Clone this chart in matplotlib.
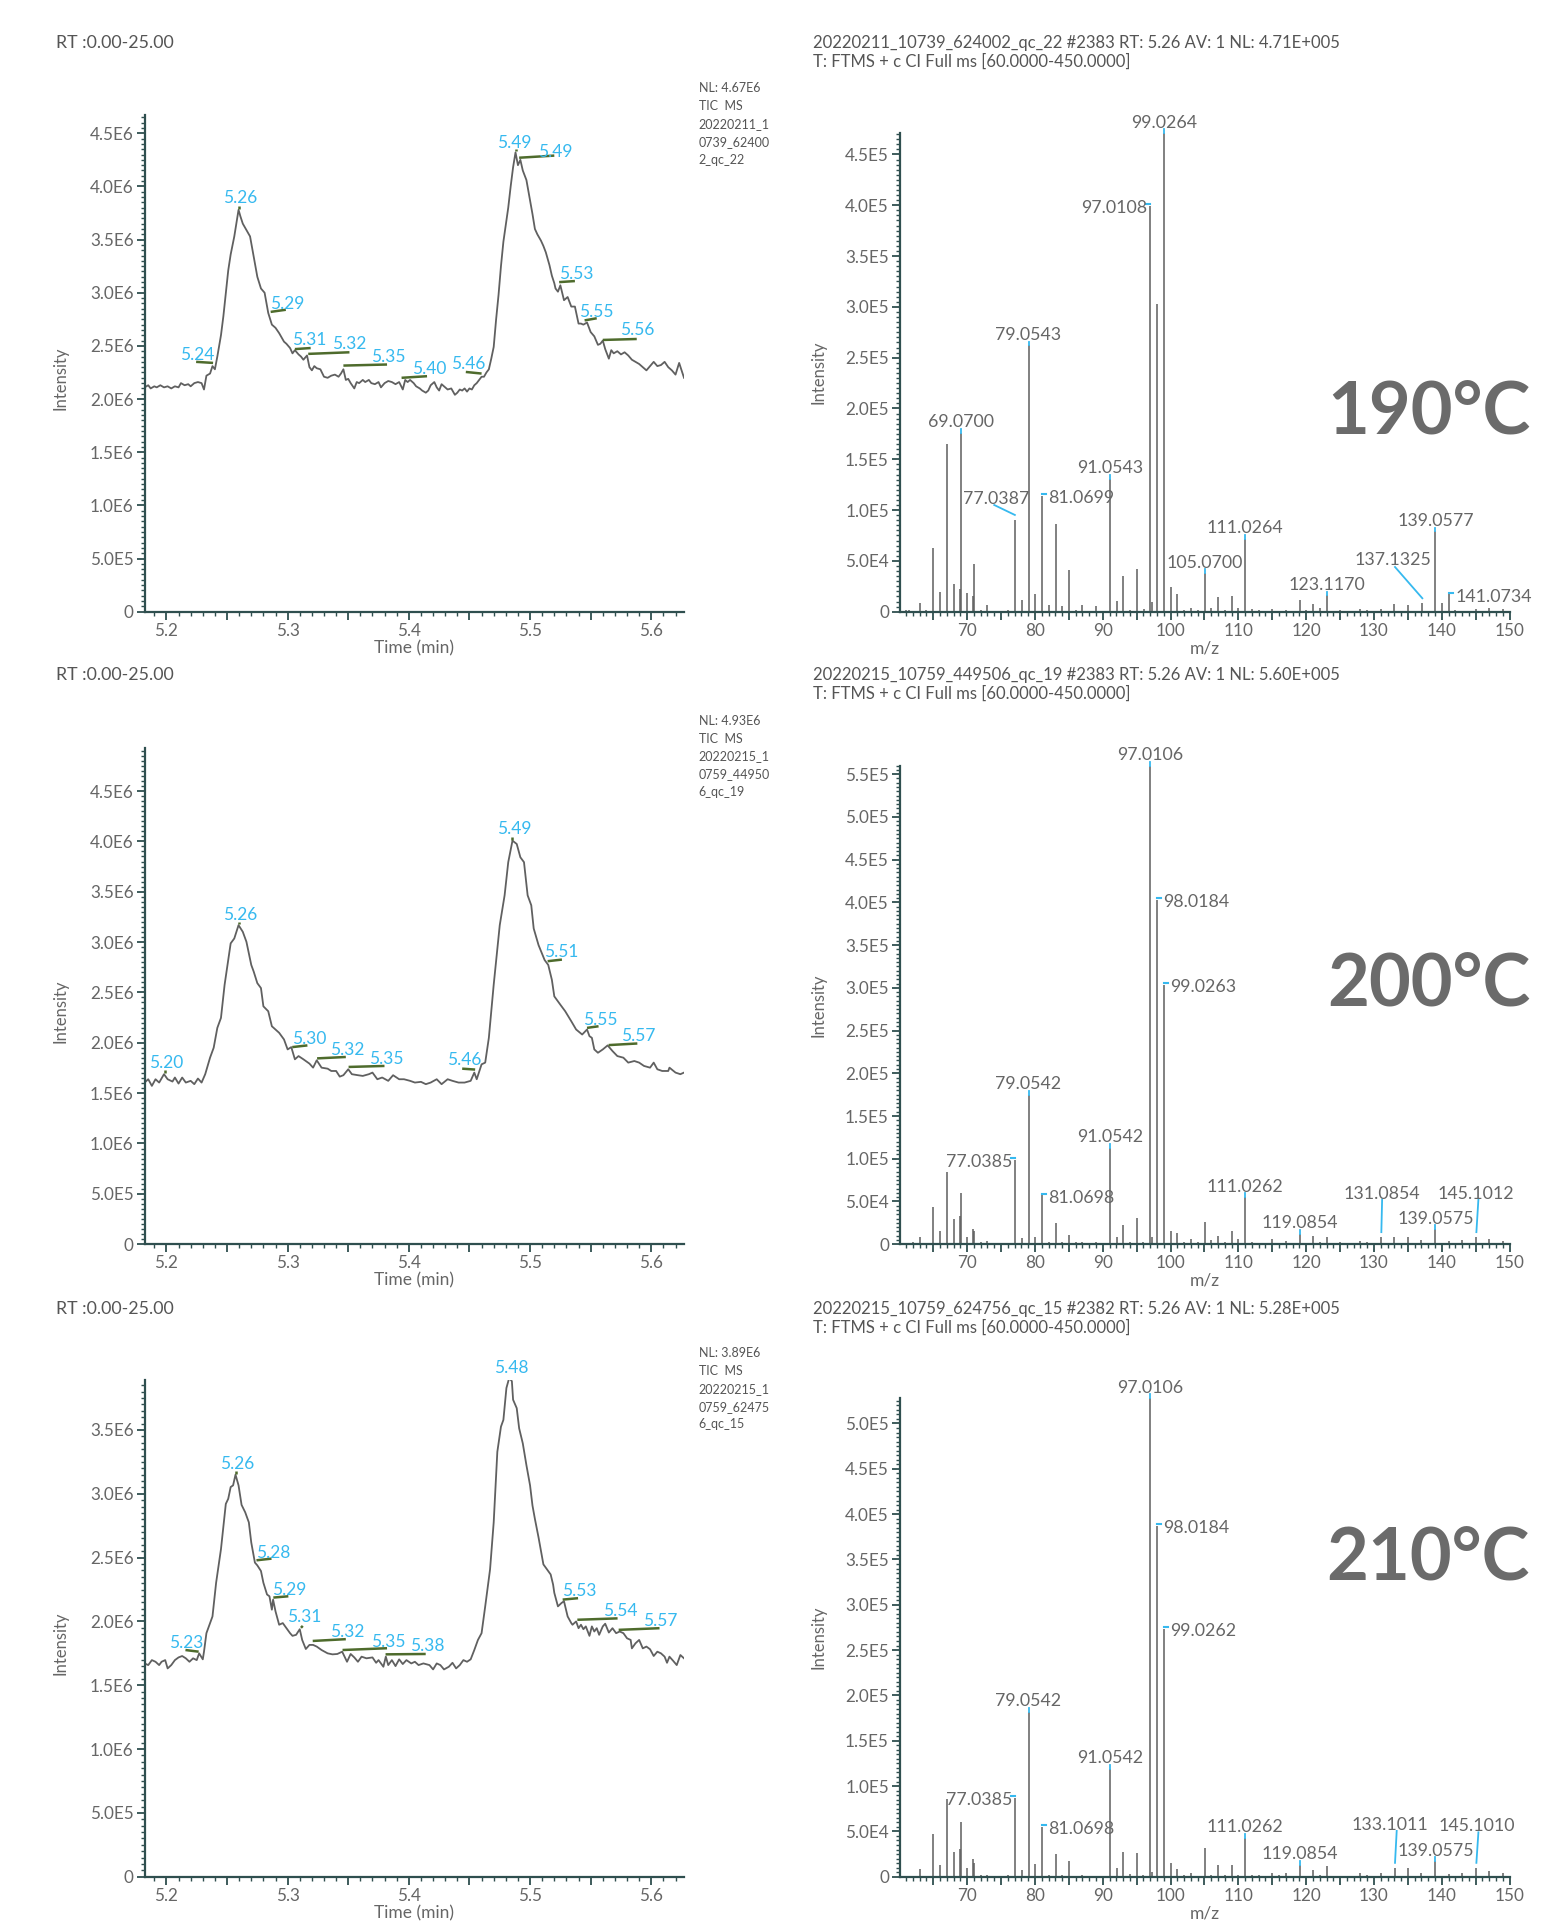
import numpy as np
import matplotlib
matplotlib.use("Agg")
import matplotlib.pyplot as plt
from matplotlib.ticker import MultipleLocator, FuncFormatter

plt.rcParams['font.family'] = ['Lato', 'DejaVu Sans']

GREY = '#666666'
TXT = '#555555'
AXC = '#2f4f4f'
BLUE = '#36b9ef'
GREEN = '#4e6b2c'

# ---- TIC chromatograms: (time min, intensity E6) ----
trace_190 = [(5.182,2.11),(5.185,2.13),(5.187,2.10),(5.190,2.12),(5.192,2.11),(5.195,2.13),(5.198,2.11),(5.201,2.12),
 (5.204,2.10),(5.207,2.12),(5.210,2.11),(5.212,2.15),(5.215,2.13),(5.218,2.14),(5.220,2.12),(5.223,2.15),(5.226,2.16),
 (5.229,2.15),(5.231,2.09),(5.233,2.22),(5.236,2.24),(5.238,2.31),(5.240,2.28),(5.242,2.40),(5.245,2.60),(5.247,2.78),
 (5.249,3.00),(5.251,3.21),(5.253,3.36),(5.256,3.53),(5.2595,3.78),(5.261,3.72),(5.263,3.65),(5.266,3.59),(5.269,3.53),
 (5.272,3.34),(5.275,3.15),(5.278,3.04),(5.281,3.00),(5.284,2.81),(5.287,2.70),(5.290,2.67),(5.293,2.62),(5.297,2.54),
 (5.299,2.52),(5.302,2.48),(5.304,2.43),(5.306,2.46),(5.309,2.42),(5.311,2.40),(5.313,2.37),(5.316,2.41),(5.318,2.30),
 (5.320,2.27),(5.322,2.31),(5.324,2.29),(5.327,2.28),(5.330,2.21),(5.333,2.20),(5.336,2.22),(5.339,2.23),(5.342,2.21),
 (5.344,2.24),(5.346,2.28),(5.348,2.18),(5.350,2.19),(5.352,2.15),(5.355,2.10),(5.357,2.16),(5.359,2.15),(5.362,2.18),
 (5.364,2.16),(5.367,2.18),(5.369,2.15),(5.372,2.14),(5.375,2.16),(5.377,2.11),(5.380,2.15),(5.383,2.17),(5.386,2.16),
 (5.389,2.14),(5.392,2.16),(5.395,2.09),(5.397,2.18),(5.399,2.16),(5.401,2.18),(5.404,2.15),(5.406,2.12),(5.409,2.10),
 (5.411,2.08),(5.414,2.06),(5.416,2.08),(5.418,2.13),(5.421,2.16),(5.423,2.11),(5.425,2.08),(5.427,2.14),(5.429,2.12),
 (5.432,2.09),(5.435,2.10),(5.438,2.04),(5.440,2.06),(5.442,2.09),(5.444,2.08),(5.446,2.10),(5.448,2.07),(5.450,2.10),
 (5.452,2.09),(5.454,2.13),(5.456,2.15),(5.458,2.18),(5.460,2.21),(5.462,2.21),(5.464,2.25),(5.466,2.28),(5.468,2.38),
 (5.470,2.49),(5.472,2.75),(5.474,2.98),(5.476,3.25),(5.478,3.48),(5.480,3.64),(5.482,3.80),(5.484,4.00),(5.486,4.18),
 (5.488,4.32),(5.490,4.20),(5.492,4.25),(5.494,4.15),(5.497,4.06),(5.500,3.87),(5.502,3.74),(5.504,3.60),(5.506,3.55),
 (5.509,3.49),(5.511,3.44),(5.513,3.38),(5.516,3.26),(5.518,3.16),(5.520,3.09),(5.521,3.04),(5.523,3.01),(5.525,3.07),
 (5.528,2.93),(5.531,2.96),(5.534,2.87),(5.537,2.87),(5.540,2.71),(5.542,2.71),(5.544,2.70),(5.547,2.72),(5.550,2.63),
 (5.553,2.59),(5.556,2.51),(5.558,2.52),(5.560,2.55),(5.562,2.47),(5.565,2.38),(5.567,2.46),(5.569,2.43),(5.572,2.45),
 (5.575,2.42),(5.578,2.44),(5.581,2.41),(5.584,2.37),(5.587,2.35),(5.590,2.33),(5.593,2.30),(5.596,2.27),(5.599,2.31),
 (5.602,2.35),(5.605,2.31),(5.608,2.32),(5.611,2.35),(5.614,2.30),(5.617,2.27),(5.620,2.23),(5.623,2.34),(5.627,2.20)]

trace_200 = [(5.182,1.605),(5.185,1.638),(5.188,1.572),(5.191,1.638),(5.194,1.605),(5.198,1.688),(5.201,1.638),
 (5.205,1.615),(5.207,1.655),(5.210,1.595),(5.213,1.655),(5.216,1.605),(5.220,1.622),(5.223,1.589),(5.226,1.645),
 (5.229,1.605),(5.232,1.688),(5.236,1.852),(5.239,1.951),(5.242,2.148),(5.245,2.247),(5.248,2.576),(5.253,2.987),
 (5.256,3.036),(5.2595,3.168),(5.263,3.102),(5.266,3.003),(5.270,2.773),(5.272,2.707),(5.275,2.592),(5.278,2.543),
 (5.280,2.362),(5.284,2.313),(5.287,2.164),(5.293,2.099),(5.297,2.033),(5.300,1.934),(5.303,1.957),(5.306,1.836),
 (5.309,1.868),(5.313,1.836),(5.318,1.793),(5.321,1.753),(5.324,1.826),(5.328,1.753),(5.333,1.743),(5.336,1.720),
 (5.340,1.720),(5.343,1.664),(5.346,1.678),(5.350,1.737),(5.353,1.688),(5.358,1.678),(5.362,1.671),(5.367,1.688),
 (5.370,1.704),(5.374,1.638),(5.378,1.655),(5.383,1.622),(5.387,1.678),(5.392,1.638),(5.396,1.638),(5.401,1.622),
 (5.405,1.605),(5.410,1.612),(5.414,1.589),(5.418,1.605),(5.423,1.638),(5.427,1.589),(5.432,1.638),(5.436,1.622),
 (5.441,1.605),(5.446,1.605),(5.451,1.622),(5.454,1.704),(5.456,1.638),(5.460,1.786),(5.463,1.803),(5.466,2.049),
 (5.470,2.576),(5.475,3.168),(5.479,3.464),(5.482,3.793),(5.4855,4.007),(5.489,3.974),(5.492,3.842),(5.495,3.793),
 (5.498,3.464),(5.501,3.365),(5.503,3.135),(5.507,2.970),(5.512,2.822),(5.515,2.773),(5.518,2.625),(5.520,2.461),
 (5.525,2.378),(5.529,2.313),(5.534,2.214),(5.538,2.132),(5.543,2.082),(5.547,2.132),(5.549,2.066),(5.551,2.049),
 (5.553,1.934),(5.556,1.901),(5.560,1.934),(5.564,1.974),(5.568,1.918),(5.572,1.868),(5.577,1.852),(5.581,1.803),
 (5.586,1.819),(5.590,1.803),(5.594,1.770),(5.599,1.753),(5.602,1.803),(5.605,1.737),(5.609,1.720),(5.614,1.720),
 (5.615,1.753),(5.620,1.704),(5.624,1.688),(5.627,1.704)]

trace_210 = [(5.182,1.671),(5.185,1.658),(5.188,1.697),(5.191,1.684),(5.194,1.658),(5.196,1.684),(5.199,1.697),
 (5.201,1.632),(5.204,1.658),(5.207,1.697),(5.210,1.718),(5.213,1.729),(5.216,1.711),(5.219,1.684),(5.222,1.711),
 (5.225,1.697),(5.227,1.750),(5.230,1.703),(5.231,1.763),(5.233,1.908),(5.238,2.039),(5.241,2.303),(5.245,2.566),
 (5.249,2.921),(5.251,2.961),(5.253,3.053),(5.255,3.066),(5.257,3.150),(5.2595,3.066),(5.262,2.913),(5.265,2.855),
 (5.268,2.776),(5.270,2.618),(5.273,2.461),(5.275,2.439),(5.278,2.395),(5.280,2.303),(5.283,2.211),(5.285,2.197),
 (5.287,2.092),(5.288,2.171),(5.290,2.079),(5.293,1.974),(5.296,1.987),(5.299,1.947),(5.302,1.908),(5.304,1.887),
 (5.307,1.895),(5.310,1.939),(5.312,1.855),(5.315,1.784),(5.318,1.816),(5.321,1.816),(5.324,1.803),(5.328,1.776),
 (5.333,1.750),(5.337,1.742),(5.341,1.745),(5.345,1.763),(5.347,1.724),(5.349,1.684),(5.352,1.745),(5.355,1.718),
 (5.358,1.684),(5.361,1.724),(5.365,1.711),(5.370,1.718),(5.373,1.676),(5.375,1.697),(5.379,1.645),(5.381,1.724),
 (5.383,1.658),(5.386,1.697),(5.389,1.650),(5.392,1.703),(5.395,1.666),(5.398,1.697),(5.402,1.671),(5.405,1.684),
 (5.408,1.658),(5.412,1.671),(5.417,1.658),(5.420,1.624),(5.423,1.671),(5.426,1.658),(5.429,1.624),(5.433,1.645),
 (5.436,1.676),(5.439,1.632),(5.442,1.658),(5.445,1.697),(5.448,1.684),(5.451,1.703),(5.454,1.776),(5.457,1.855),
 (5.460,1.908),(5.463,2.118),(5.467,2.408),(5.470,2.776),(5.473,3.329),(5.476,3.526),(5.478,3.579),(5.4805,3.829),
 (5.4828,3.908),(5.485,3.882),(5.486,3.737),(5.489,3.671),(5.491,3.513),(5.494,3.395),(5.497,3.224),(5.500,3.066),
 (5.502,2.908),(5.504,2.803),(5.507,2.658),(5.511,2.447),(5.514,2.408),(5.517,2.368),(5.519,2.289),(5.520,2.224),
 (5.523,2.118),(5.526,2.145),(5.528,2.158),(5.531,2.039),(5.534,1.987),(5.535,1.974),(5.538,2.000),(5.540,1.947),
 (5.542,1.974),(5.544,1.939),(5.546,1.961),(5.549,1.887),(5.551,1.961),(5.553,1.921),(5.555,1.947),(5.557,1.895),
 (5.560,1.961),(5.562,1.982),(5.565,1.913),(5.568,1.947),(5.571,1.908),(5.574,1.921),(5.577,1.908),(5.580,1.868),
 (5.583,1.855),(5.584,1.789),(5.587,1.829),(5.590,1.855),(5.593,1.789),(5.596,1.803),(5.599,1.782),(5.602,1.729),
 (5.605,1.763),(5.608,1.750),(5.611,1.724),(5.613,1.676),(5.615,1.724),(5.618,1.692),(5.621,1.658),(5.624,1.737),
 (5.627,1.711)]

# peak labels: text, text x, text baseline y (E6), green mark (t0, i0, t1, i1)
marks_190 = [("5.24", 5.2255, 2.37, (5.2245, 2.35, 5.2385, 2.34)),
             ("5.26", 5.2605, 3.84, (5.2595, 3.79, 5.2595, 3.82)),
             ("5.29", 5.2995, 2.85, (5.286, 2.82, 5.2985, 2.84)),
             ("5.31", 5.318, 2.51, (5.306, 2.47, 5.319, 2.48)),
             ("5.32", 5.351, 2.47, (5.317, 2.425, 5.351, 2.44)),
             ("5.35", 5.383, 2.35, (5.346, 2.315, 5.382, 2.325)),
             ("5.40", 5.417, 2.24, (5.394, 2.20, 5.415, 2.215)),
             ("5.46", 5.449, 2.28, (5.447, 2.255, 5.460, 2.24)),
             ("5.49", 5.487, 4.36, (5.488, 4.33, 5.488, 4.35)),
             ("5.49", 5.521, 4.28, (5.491, 4.27, 5.520, 4.29)),
             ("5.53", 5.538, 3.13, (5.524, 3.10, 5.537, 3.11)),
             ("5.55", 5.555, 2.775, (5.545, 2.74, 5.555, 2.76)),
             ("5.56", 5.588, 2.60, (5.560, 2.556, 5.588, 2.565))]

marks_200 = [("5.20", 5.200, 1.747, (5.1985, 1.70, 5.1985, 1.73)),
             ("5.26", 5.261, 3.217, (5.2595, 3.175, 5.2595, 3.20)),
             ("5.30", 5.3178, 1.984, (5.3038, 1.957, 5.3163, 1.974)),
             ("5.32", 5.3494, 1.875, (5.3243, 1.845, 5.348, 1.859)),
             ("5.35", 5.3814, 1.786, (5.3503, 1.76, 5.3799, 1.77)),
             ("5.46", 5.4456, 1.78, (5.444, 1.743, 5.4547, 1.734)),
             ("5.49", 5.487, 4.07, (5.4855, 4.015, 5.4855, 4.045)),
             ("5.51", 5.5257, 2.849, (5.5145, 2.81, 5.5263, 2.826)),
             ("5.55", 5.558, 2.18, (5.547, 2.148, 5.5565, 2.164)),
             ("5.57", 5.5896, 2.016, (5.5648, 1.977, 5.5885, 1.993))]

marks_210 = [("5.23", 5.2166, 1.79, (5.2157, 1.776, 5.2266, 1.763)),
             ("5.26", 5.258, 3.197, (5.2571, 3.155, 5.2571, 3.18)),
             ("5.28", 5.2882, 2.50, (5.2743, 2.479, 5.2867, 2.492)),
             ("5.29", 5.3015, 2.21, (5.2882, 2.187, 5.3006, 2.197)),
             ("5.31", 5.3133, 1.992, (5.3110, 1.950, 5.3125, 1.965)),
             ("5.32", 5.3488, 1.876, (5.3207, 1.847, 5.348, 1.861)),
             ("5.35", 5.3828, 1.80, (5.3453, 1.776, 5.382, 1.79)),
             ("5.38", 5.415, 1.768, (5.3808, 1.742, 5.4139, 1.745)),
             ("5.48", 5.4843, 3.947, (5.4828, 3.915, 5.4828, 3.935)),
             ("5.53", 5.5402, 2.197, (5.5269, 2.171, 5.5396, 2.182)),
             ("5.54", 5.5743, 2.039, (5.539, 2.013, 5.5722, 2.024)),
             ("5.57", 5.6071, 1.961, (5.5731, 1.934, 5.6068, 1.947))]

tic_nl = [4.67e6, 4.93e6, 3.89e6]
nl_blocks = [["NL: 4.67E6", "TIC  MS", "20220211_1", "0739_62400", "2_qc_22"],
             ["NL: 4.93E6", "TIC  MS", "20220215_1", "0759_44950", "6_qc_19"],
             ["NL: 3.89E6", "TIC  MS", "20220215_1", "0759_62475", "6_qc_15"]]

# ---- mass spectra: (m/z, intensity E5) ----
spec_190 = [(61.0,0.02),(61.5,0.015),(63.0,0.085),(64.0,0.02),(65.04,0.63),(66.0,0.19),(67.05,1.65),(68.05,0.27),
 (68.9,0.22),(69.07,1.76),(70.0,0.18),(70.9,0.15),(71.05,0.47),(72.0,0.02),(73.0,0.065),(76.0,0.02),(77.0387,0.905),
 (78.05,0.12),(79.0543,2.62),(80.05,0.17),(81.0699,1.14),(82.05,0.065),(83.05,0.86),(84.05,0.06),(85.05,0.41),
 (86.0,0.02),(87.0,0.065),(89.0,0.06),(91.0543,1.31),(92.05,0.11),(93.05,0.35),(94.0,0.02),(95.05,0.42),(96.05,0.03),
 (97.0108,3.99),(97.2,0.10),(98.02,3.03),(99.0264,4.71),(100.0,0.24),(101.0,0.17),(102.0,0.02),(103.0,0.04),
 (104.0,0.015),(105.07,0.38),(106.0,0.04),(107.05,0.14),(108.0,0.02),(109.05,0.15),(110.0,0.04),(111.0264,0.72),
 (112.0,0.03),(113.0,0.02),(115.0,0.03),(117.0,0.02),(119.05,0.12),(120.0,0.02),(121.0,0.08),(122.0,0.04),
 (123.117,0.16),(125.0,0.02),(128.0,0.03),(129.0,0.02),(131.0,0.03),(133.0,0.08),(135.0,0.065),(137.1325,0.085),
 (139.0577,0.79),(140.05,0.09),(141.0734,0.17),(142.0,0.02),(145.0,0.03),(147.0,0.04),(149.0,0.03)]

spec_200 = [(62.0,0.02),(63.0,0.085),(65.04,0.44),(66.0,0.16),(67.05,0.84),(68.05,0.29),(68.9,0.33),(69.07,0.60),
 (70.0,0.08),(70.9,0.18),(71.05,0.16),(72.0,0.02),(73.0,0.035),(77.0385,0.99),(78.05,0.07),(79.0542,1.75),
 (80.05,0.085),(81.0698,0.57),(82.05,0.02),(83.05,0.25),(84.0,0.02),(85.05,0.105),(86.0,0.02),(87.0,0.02),(89.0,0.02),
 (91.0542,1.125),(92.05,0.08),(93.05,0.23),(94.0,0.02),(95.05,0.31),(96.0,0.02),(97.0106,5.60),(97.2,0.08),
 (98.0184,4.03),(99.0263,3.03),(100.0,0.155),(101.0,0.13),(102.0,0.02),(103.0,0.06),(104.0,0.02),(105.07,0.26),
 (106.0,0.05),(107.05,0.10),(108.0,0.02),(109.05,0.16),(110.0,0.06),(111.0262,0.55),(112.0,0.02),(115.0,0.06),
 (117.0,0.04),(119.0854,0.125),(121.0,0.10),(122.0,0.02),(123.05,0.085),(125.0,0.02),(128.0,0.04),(129.0,0.03),
 (131.0854,0.085),(133.0,0.085),(135.0,0.08),(137.0,0.05),(139.0575,0.175),(141.0,0.04),(143.0,0.05),
 (145.1012,0.085),(147.0,0.06),(149.0,0.04)]

spec_210 = [(63.0,0.085),(65.04,0.47),(66.0,0.13),(67.05,0.86),(68.05,0.275),(68.9,0.31),(69.07,0.605),(70.0,0.10),
 (70.9,0.195),(71.05,0.155),(72.0,0.02),(73.0,0.02),(76.0,0.02),(77.0385,0.87),(78.05,0.07),(79.0542,1.82),
 (80.05,0.14),(81.0698,0.545),(82.0,0.02),(83.05,0.245),(84.0,0.02),(85.05,0.175),(87.0,0.02),(91.0542,1.19),
 (92.05,0.10),(93.05,0.27),(94.0,0.03),(95.05,0.265),(96.0,0.02),(97.0106,5.28),(97.2,0.05),(98.0184,3.87),
 (99.0262,2.73),(100.0,0.147),(101.0,0.08),(102.0,0.02),(103.0,0.04),(105.07,0.32),(106.0,0.02),(107.05,0.13),
 (108.0,0.02),(109.05,0.13),(110.0,0.02),(111.0262,0.43),(112.0,0.02),(113.0,0.02),(115.0,0.04),(116.0,0.02),
 (117.0,0.04),(119.0854,0.13),(121.0,0.07),(122.0,0.02),(123.05,0.12),(128.0,0.04),(129.0,0.02),(131.0,0.04),
 (133.1011,0.10),(135.0,0.10),(137.0,0.04),(139.0575,0.17),(141.0,0.03),(143.0,0.04),(145.101,0.10),(147.0,0.06),
 (149.0,0.04)]

spec_nl = [4.71e5, 5.60e5, 5.28e5]
spec_heads = ["20220211_10739_624002_qc_22 #2383 RT: 5.26 AV: 1 NL: 4.71E+005",
              "20220215_10759_449506_qc_19 #2383 RT: 5.26 AV: 1 NL: 5.60E+005",
              "20220215_10759_624756_qc_15 #2382 RT: 5.26 AV: 1 NL: 5.28E+005"]
scan_line = "T: FTMS + c CI Full ms [60.0000-450.0000]"

labels_190 = [99.0264, 97.0108, 79.0543, 69.07, 77.0387, 81.0699, 91.0543, 105.07, 111.0264, 123.117,
              139.0577, 137.1325, 141.0734]
labels_200 = [97.0106, 98.0184, 99.0263, 79.0542, 77.0385, 81.0698, 91.0542, 111.0262, 119.0854, 131.0854,
              139.0575, 145.1012]
labels_210 = [97.0106, 98.0184, 99.0262, 79.0542, 77.0385, 81.0698, 91.0542, 111.0262, 119.0854, 133.1011,
              139.0575, 145.101]

temps = ["190°C", "200°C", "210°C"]

# label placement (layout only)
modes_190 = ['top', 'left', 'top', 'top', 'lead', 'right', 'top', 'top', 'top', 'top', 'top', 'lead', 'right']
modes_200 = ['top', 'right', 'right', 'top', 'left', 'right', 'top', 'top', 'top', 'lead', 'top', 'lead']
modes_210 = ['top', 'right', 'right', 'top', 'left', 'right', 'top', 'top', 'top', 'lead', 'top', 'lead']
leads = [{77.0387: ((74.3, 1.11), (74.0, 1.05)), 137.1325: ((132.8, 0.51), (133.1, 0.44))},
         {131.0854: ((131.2, 0.59), (131.2, 0.525)), 145.1012: ((145.0, 0.59), (145.4, 0.525))},
         {133.1011: ((132.4, 0.57), (133.35, 0.505)), 145.101: ((145.2, 0.56), (145.4, 0.49))}]

W, H = 1558, 1922
fig = plt.figure(figsize=(W / 100, H / 100), dpi=100)


def sci(v, pos=None):
    if abs(v) < 1e-9:
        return '0'
    e = int(np.floor(np.log10(abs(v)) + 1e-9))
    return f'{v / 10 ** e:.1f}E{e}'


def style(ax):
    for s in ['top', 'right']:
        ax.spines[s].set_visible(False)
    for s in ['left', 'bottom']:
        ax.spines[s].set_color(AXC)
        ax.spines[s].set_linewidth(1.6)
    ax.tick_params(which='major', length=6, width=1.3, color=AXC, labelcolor=GREY, labelsize=12.3, pad=2)
    ax.tick_params(which='minor', length=3, width=1.0, color=AXC)
    ax.yaxis.set_major_formatter(FuncFormatter(sci))


chrom_bottoms = [1 - 611.7 / H, 1 - 1244.2 / H, 1 - 1876.7 / H]
traces = [trace_190, trace_200, trace_210]
marks = [marks_190, marks_200, marks_210]
specs = [spec_190, spec_200, spec_210]
labels = [labels_190, labels_200, labels_210]
modes = [modes_190, modes_200, modes_210]
head_y = [42.9, 675.4, 1309.0]
nl_y = [88.3, 720.8, 1353.3]
temp_y = [434, 1006, 1579]

for k in range(3):
    # chromatogram
    ax = fig.add_axes([144.6 / W, chrom_bottoms[k], 539.4 / W, 496.5 / H])
    t = [p[0] for p in traces[k]]
    v = [p[1] * 1e6 for p in traces[k]]
    ax.plot(t, v, color='#606060', lw=1.3)
    for txt, tx, ty, seg in marks[k]:
        ax.plot([seg[0], seg[2]], [seg[1] * 1e6, seg[3] * 1e6], color=GREEN, lw=1.8, solid_capstyle='butt')
        ax.text(tx, ty * 1e6, txt, color=BLUE, fontsize=12.5, ha='center', va='baseline')
    ax.set_xlim(5.182, 5.627)
    ax.set_ylim(0, tic_nl[k])
    style(ax)
    ax.yaxis.set_major_locator(MultipleLocator(0.5e6))
    ax.yaxis.set_minor_locator(MultipleLocator(0.05e6))
    ax.xaxis.set_major_locator(MultipleLocator(0.05))
    ax.xaxis.set_minor_locator(MultipleLocator(0.01))
    ax.xaxis.set_major_formatter(FuncFormatter(
        lambda x, p: f'{x:.1f}' if abs(x * 10 - round(x * 10)) < 1e-6 else ''))
    ax.set_xlabel('Time (min)', fontsize=12.5, color=GREY, labelpad=1)
    ax.set_ylabel('Intensity', fontsize=12, color=GREY)
    ax.yaxis.set_label_coords(-0.142, 0.47)

    fig.text(56.4 / W, 1 - head_y[k] / H, 'RT :0.00-25.00', fontsize=12.8, color=TXT, va='center')
    for j, line in enumerate(nl_blocks[k]):
        fig.text(698.7 / W, 1 - (nl_y[k] + 17.8 * j) / H, line, fontsize=9, color=TXT, va='center')

    # mass spectrum
    sx = fig.add_axes([900 / W, chrom_bottoms[k], 609.6 / W, 478.6 / H])
    mz = [p[0] for p in specs[k]]
    it = [p[1] * 1e5 for p in specs[k]]
    sx.vlines(mz, 0, it, color='#5e5e5e', lw=1.1)
    top = spec_nl[k]
    for m, mode in zip(labels[k], modes[k]):
        i = it[int(np.argmin(np.abs(np.array(mz) - m)))]
        txt = f'{m:.4f}'
        if mode == 'top':
            sx.plot([m, m], [i, i + 0.008 * top], color=BLUE, lw=1.3, clip_on=False)
            sx.annotate(txt, (m, i), xytext=(0, 4), textcoords='offset points', ha='center', va='baseline',
                        fontsize=12.8, color=GREY, annotation_clip=False)
        elif mode == 'right':
            sx.plot([m, m + 0.6], [i + 0.004 * top] * 2, color=BLUE, lw=1.5)
            sx.annotate(txt, (m, i), xytext=(4.5, -1.5), textcoords='offset points', ha='left', va='center',
                        fontsize=12.8, color=GREY)
        elif mode == 'left':
            sx.plot([m - 0.6, m], [i + 0.004 * top] * 2, color=BLUE, lw=1.5)
            sx.annotate(txt, (m, i), xytext=(-2, -1.5), textcoords='offset points', ha='right', va='center',
                        fontsize=12.8, color=GREY)
        else:
            (tx, ty), (lx, ly) = leads[k][m]
            sx.plot([lx, m], [ly * 1e5, i + 0.01 * top], color=BLUE, lw=1.3)
            sx.text(tx, ty * 1e5, txt, ha='center', va='center', fontsize=12.8, color=GREY)
    sx.set_xlim(60.1, 150)
    sx.set_ylim(0, top)
    style(sx)
    sx.yaxis.set_major_locator(MultipleLocator(0.5e5))
    sx.yaxis.set_minor_locator(MultipleLocator(0.05e5))
    sx.xaxis.set_major_locator(MultipleLocator(5))
    sx.xaxis.set_minor_locator(MultipleLocator(1))
    sx.xaxis.set_major_formatter(FuncFormatter(lambda x, p: f'{x:.0f}' if round(x) % 10 == 0 else ''))
    sx.set_xlabel('m/z', fontsize=12.5, color=GREY, labelpad=1)
    sx.set_ylabel('Intensity', fontsize=12, color=GREY)
    sx.yaxis.set_label_coords(-0.12, 0.5)

    fig.text(812.7 / W, 1 - head_y[k] / H, spec_heads[k], fontsize=12, color=TXT, va='center')
    fig.text(812.7 / W, 1 - (head_y[k] + 18.4) / H, scan_line, fontsize=12, color=TXT, va='center')
    fig.text(1530 / W, 1 - temp_y[k] / H, temps[k], fontsize=52, fontweight='bold', color='#6b6b6b',
             ha='right', va='baseline')

fig.savefig('out.png', dpi=100)
